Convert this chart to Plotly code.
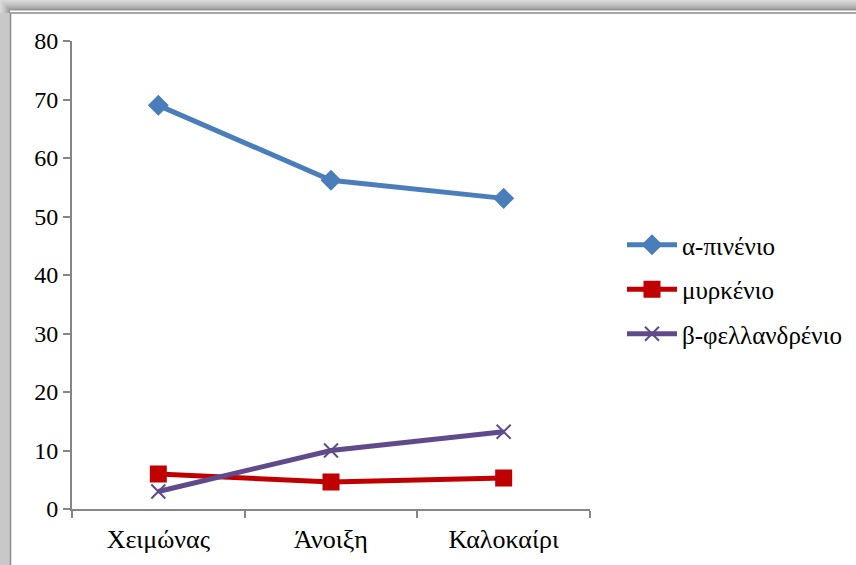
import plotly.graph_objects as go

# Seasons on the x axis
seasons = ["Χειμώνας", "Άνοιξη", "Καλοκαίρι"]

# Percentage content of each compound per season
a_pinene = [69.0, 56.2, 53.1]
myrcene = [6.0, 4.6, 5.3]
b_phellandrene = [3.0, 10.0, 13.2]

series = [
    ("α-πινένιο", a_pinene, "#4A7EBB", "diamond", 14),
    ("μυρκένιο", myrcene, "#C00000", "square", 15),
    ("β-φελλανδρένιο", b_phellandrene, "#5F4B8B", "x-thin-open", 14),
]

W, H = 856, 565
L, R, T, B = 72, 590, 41, 509  # plot area in pixels

fig = go.Figure()
for i, (name, vals, color, sym, size) in enumerate(series):
    fig.add_trace(go.Scatter(
        x=seasons, y=vals, name=name, mode="lines+markers",
        legendgroup=str(i),
        line=dict(color=color, width=5),
        marker=dict(symbol=sym, size=size, color=color,
                    line=dict(color=color, width=2)),
    ))

# Soft gray frame along the top and left edges
shapes = []
greys = ["#d9d9d9", "#d4d4d4", "#cfcfcf", "#cacaca", "#c4c4c4",
         "#bdbdbd", "#b5b5b5", "#acacac", "#a2a2a2", "#979797"]


def px_x(p):
    return (p - L) / (R - L)


def px_y(p):
    return (B - p) / (B - T)


for k, g in enumerate(greys):
    shapes.append(dict(type="rect", xref="paper", yref="paper",
                       x0=px_x(k), x1=px_x(W + 5), y0=px_y(k), y1=px_y(k + 1.6),
                       fillcolor=g, line=dict(width=0), layer="below"))
    shapes.append(dict(type="rect", xref="paper", yref="paper",
                       x0=px_x(k), x1=px_x(k + 1), y0=px_y(H + 5), y1=px_y(k),
                       fillcolor=g, line=dict(width=0), layer="below"))
shapes.append(dict(type="rect", xref="paper", yref="paper",
                   x0=px_x(0), x1=px_x(10), y0=px_y(H + 5), y1=px_y(13),
                   fillcolor="#c8c8c8", line=dict(width=0), layer="below"))
shapes.append(dict(type="line", xref="paper", yref="paper",
                   x0=px_x(10.5), x1=px_x(10.5), y0=px_y(H + 5), y1=px_y(13),
                   line=dict(color="#8a8a8a", width=1.5), layer="below"))
shapes.append(dict(type="line", xref="paper", yref="paper",
                   x0=px_x(10), x1=px_x(W + 5), y0=px_y(13), y1=px_y(13),
                   line=dict(color="#8a8a8a", width=1.5), layer="below"))

family = "Liberation Serif, Times New Roman, serif"

fig.update_layout(
    width=W, height=H,
    margin=dict(l=L, r=W - R, t=T, b=H - B, autoexpand=False),
    paper_bgcolor="#ffffff", plot_bgcolor="#ffffff",
    font=dict(family=family, size=24, color="#000000"),
    shapes=shapes,
    showlegend=True,
    legend=dict(x=px_x(622), y=px_y(222), xanchor="left", yanchor="top",
                font=dict(family=family, size=25, color="#000000"),
                traceorder="grouped", tracegroupgap=9,
                bgcolor="rgba(0,0,0,0)", itemwidth=50),
    xaxis=dict(type="category", range=[-0.5, 2.5], showgrid=False,
               showline=True, linecolor="#868686", linewidth=2,
               ticks="outside", tickson="boundaries", ticklen=7,
               tickcolor="#868686", tickwidth=2, ticklabelstandoff=6,
               tickfont=dict(family=family, size=26, color="#000000"),
               zeroline=False),
    yaxis=dict(range=[0, 80], dtick=10, showgrid=False,
               showline=True, linecolor="#868686", linewidth=2,
               ticks="outside", ticklen=7, tickcolor="#868686", tickwidth=2,
               tickfont=dict(family=family, size=24, color="#000000"),
               zeroline=False),
)

fig.write_html("out.html")
